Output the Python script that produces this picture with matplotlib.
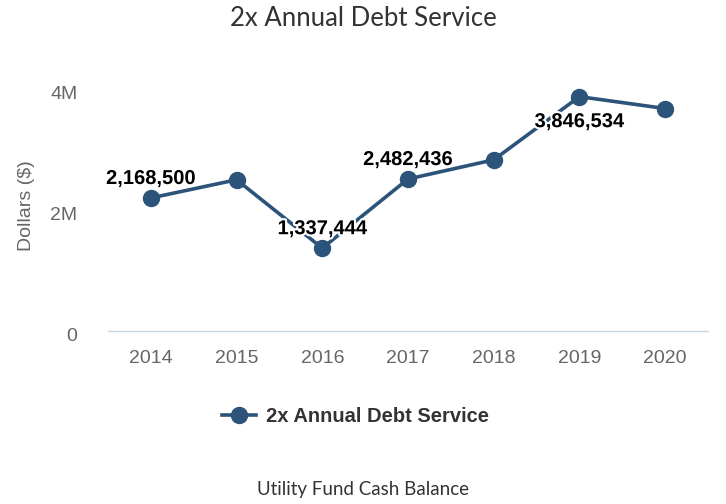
import matplotlib.pyplot as plt
import matplotlib.patheffects as pe
import matplotlib.transforms as mtransforms
from matplotlib.ticker import FuncFormatter
from matplotlib.lines import Line2D

# Utility fund: 2x annual debt service by year
years = ['2014', '2015', '2016', '2017', '2018', '2019', '2020']
debt_service_2x = [2168500, 2470000, 1337444, 2482436, 2800000, 3846534, 3650000]
# which points get a value label, and whether it sits above or below
label_pos = {0: 'above', 2: 'above', 3: 'above', 5: 'below'}

line_color = '#2c5379'
tick_color = '#666666'

fig = plt.figure(figsize=(7.26, 5.04), dpi=100)
ax = fig.add_axes([108 / 726, 1 - 331 / 504, 600 / 726, (331 - 59) / 504])

x = range(len(years))
ax.plot(x, debt_service_2x, color=line_color, lw=2.6, marker='o', ms=11.5,
        solid_capstyle='round', zorder=3)

for i, where in label_pos.items():
    v = debt_service_2x[i]
    dy = 14 if where == 'above' else -18
    ax.annotate(f'{v:,}', (i, v), xytext=(0, dy), textcoords='offset points',
                ha='center', va='center', fontsize=14.5, fontweight='bold',
                family='Liberation Sans', color='black', zorder=4,
                path_effects=[pe.withStroke(linewidth=3, foreground='white')])

ax.set_xlim(-0.5, 6.5)
ax.set_ylim(-35000, 4.47e6)
ax.set_xticks(list(x))
ax.set_xticklabels(years)
ax.set_yticks([0, 2e6, 4e6])
ax.yaxis.set_major_formatter(FuncFormatter(lambda v, p: '0' if v == 0 else f'{v / 1e6:.0f}M'))

for lbl in ax.get_xticklabels() + ax.get_yticklabels():
    lbl.set_family('Liberation Sans')
ax.tick_params(axis='both', length=0, labelsize=14, colors=tick_color)
ax.tick_params(axis='x', pad=14)
ax.tick_params(axis='y', pad=22)

# y labels sit a little below their gridline value
shift = mtransforms.ScaledTranslation(0, -4 / 72, fig.dpi_scale_trans)
for lbl in ax.get_yticklabels():
    lbl.set_transform(lbl.get_transform() + shift)

for s in ['top', 'right', 'left']:
    ax.spines[s].set_visible(False)
ax.spines['bottom'].set_color('#ccd6eb')
ax.spines['bottom'].set_linewidth(1)

ax.set_ylabel('Dollars ($)', family='Liberation Sans', fontsize=14,
              color=tick_color)
ax.yaxis.set_label_coords(-0.122, 0.46)

fig.text(0.5, 1 - 18 / 504, '2x Annual Debt Service', ha='center', va='center',
         family='Lato', fontsize=18.5, color='#333333')

handle = Line2D([], [], color=line_color, lw=2.6, marker='o', ms=11.5)
fig.legend([handle], ['2x Annual Debt Service'], loc='center',
           bbox_to_anchor=(0.49, 1 - 417 / 504), frameon=False, handlelength=1.7,
           prop={'family': 'Liberation Sans', 'weight': 'bold', 'size': 14.5},
           labelcolor='#333333', handletextpad=0.5)

fig.text(0.5, 1 - 490 / 504, 'Utility Fund Cash Balance', ha='center', va='center',
         family='Lato', fontsize=13.5, color='#333333')

fig.savefig('out.png', dpi=100)
